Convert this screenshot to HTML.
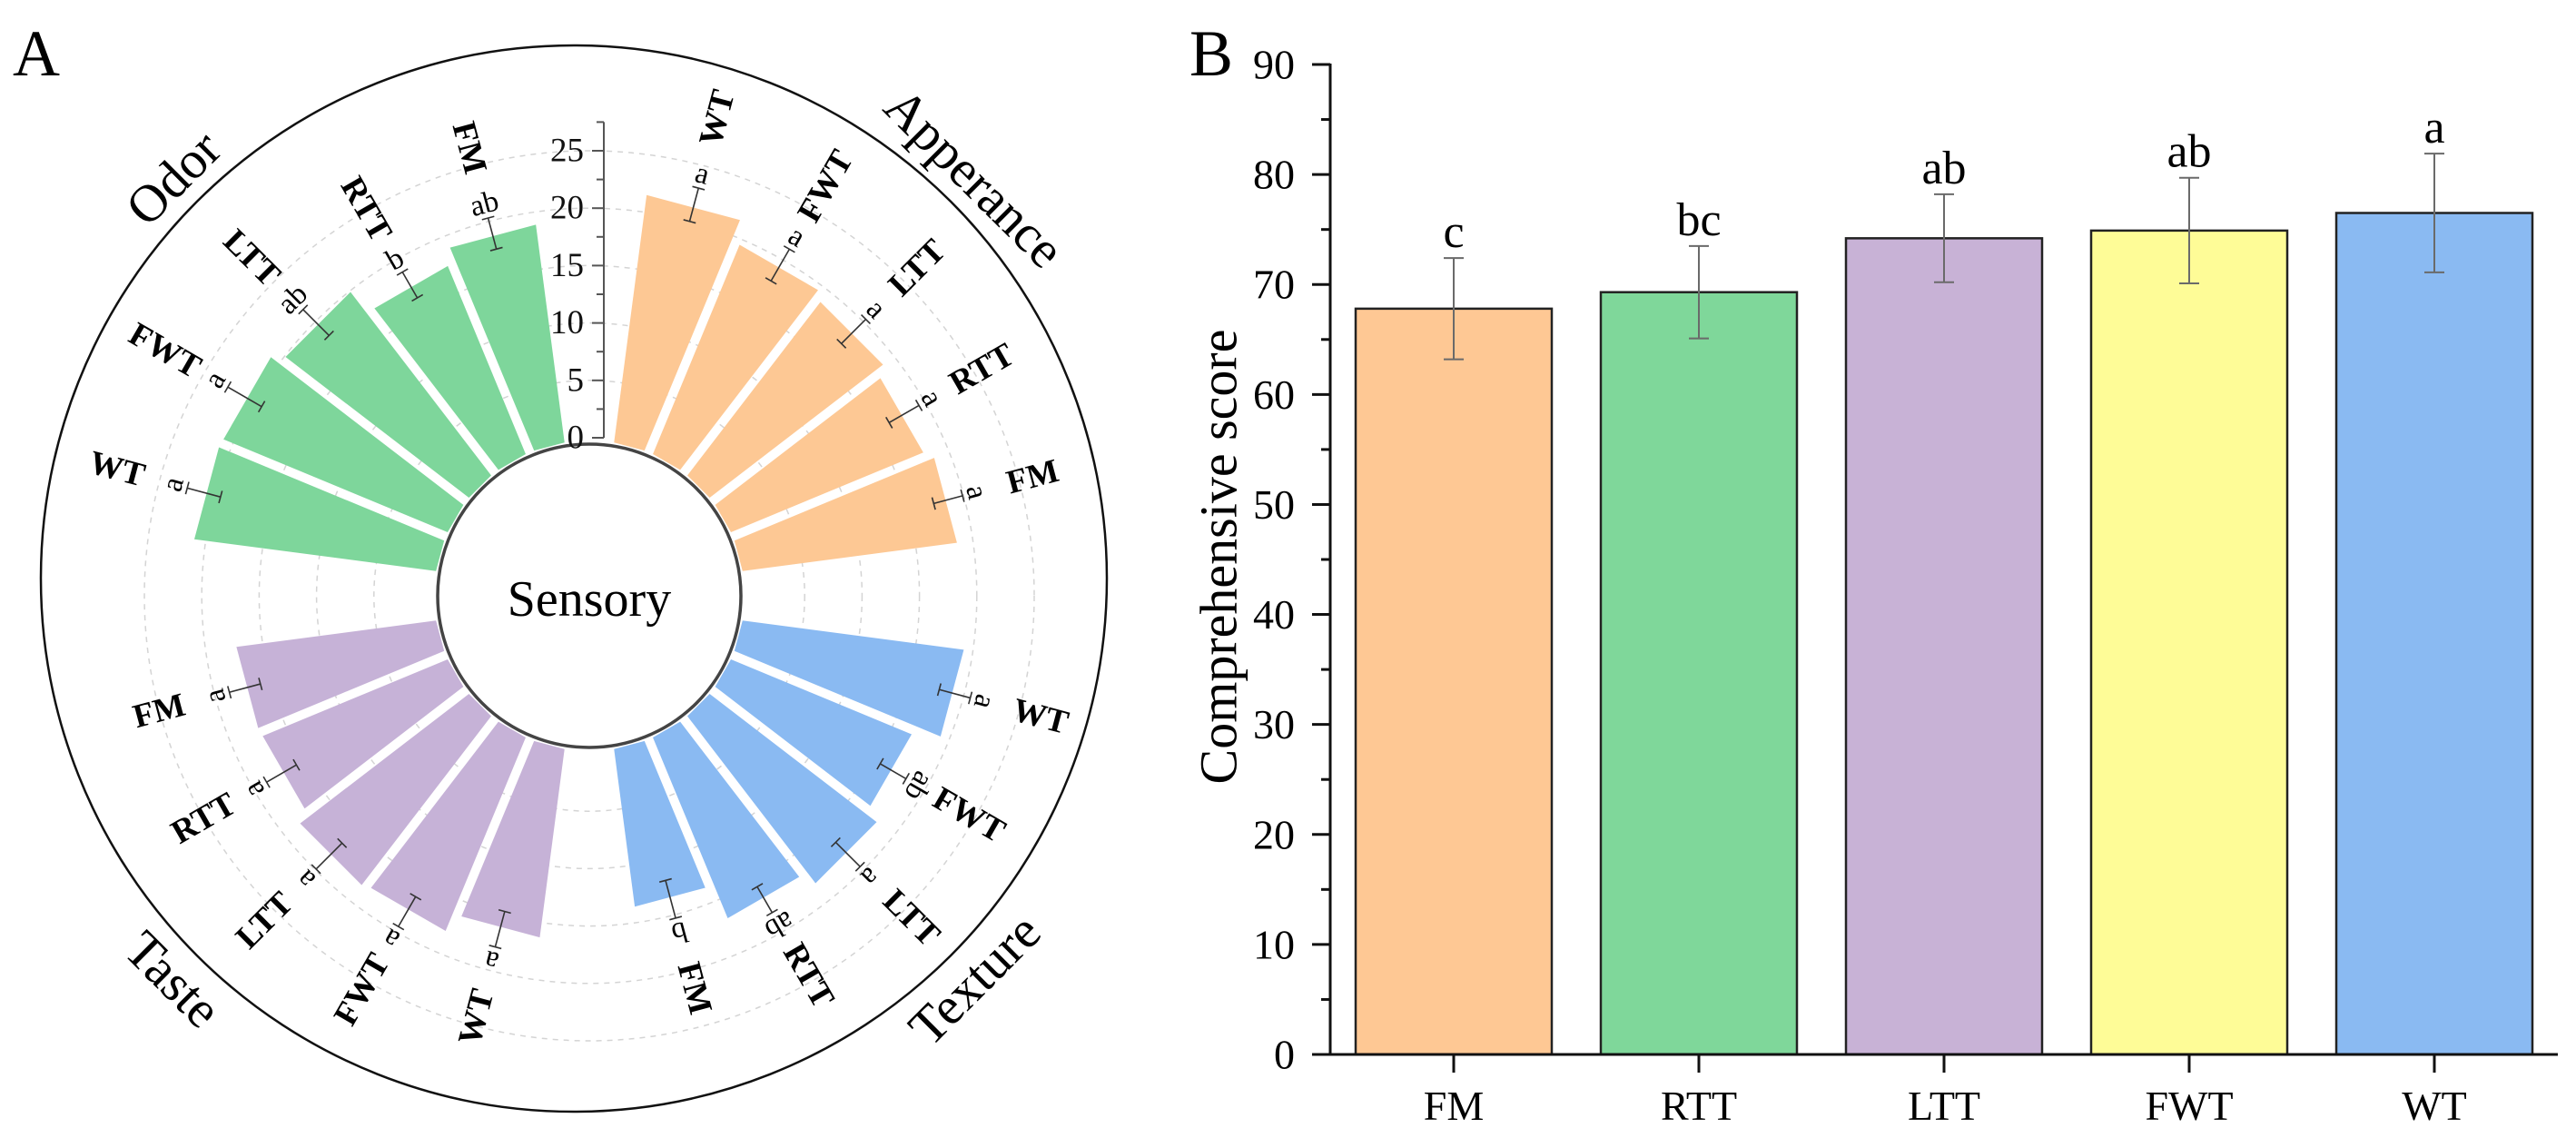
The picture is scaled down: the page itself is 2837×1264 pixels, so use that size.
<!DOCTYPE html>
<html><head><meta charset="utf-8"><style>
html,body{margin:0;padding:0;background:#fff;}
svg{display:block;font-family:"Liberation Serif",serif;}
svg text{font-family:"Liberation Serif",serif;}
</style></head><body>
<svg id="fig" width="2837" height="1264" viewBox="0 0 2837 1264" xmlns="http://www.w3.org/2000/svg" font-family="Liberation Serif, serif">
<text x="14" y="83" font-size="72">A</text>
<text x="1310" y="83" font-size="72">B</text>
<g id="panelA"></g>
<g id="panelB"></g>
</svg>
<script>
// ---------- Panel A data ----------
const groupNames = ["Apperance","Texture","Taste","Odor"];
const groupColors = ["#fdc894","#8abaf2","#c6b2d7","#7ed69b"];
const treatments = ["WT","FWT","LTT","RTT","FM"];
const appearanceVals = [21.5,19.5,18.8,17.9,18.6];
const textureVals = [19.2,16.8,18.1,16.8,13.6];
const tasteVals = [16.3,18.0,18.3,17.2,17.3];
const odorVals = [21.0,20.9,19.9,17.5,18.9];
const appearanceErr = [1.5,1.6,1.5,1.5,1.3];
const textureErr = [1.4,1.3,1.5,1.3,1.7];
const tasteErr = [1.6,1.5,1.6,1.5,1.4];
const odorErr = [1.5,1.7,1.6,1.3,1.4];
const appearanceSig = ["a","a","a","a","a"];
const textureSig = ["a","ab","a","ab","b"];
const tasteSig = ["a","a","a","a","a"];
const odorSig = ["a","a","ab","b","ab"];
const radialTicks = [0,5,10,15,20,25];

// ---------- Panel B data ----------
const bCats = ["FM","RTT","LTT","FWT","WT"];
const bVals = [67.8,69.3,74.2,74.9,76.5];
const bErr = [4.6,4.2,4.0,4.8,5.4];
const bSig = ["c","bc","ab","ab","a"];
const bColors = ["#fec894","#7fd79a","#c8b2d6","#fefc97","#8abaf2"];
const bTicks = [0,10,20,30,40,50,60,70,80,90];

const NS="http://www.w3.org/2000/svg";
function mk(tag, attrs, parent, txt){
  const e=document.createElementNS(NS,tag);
  for(const k in attrs) e.setAttribute(k,attrs[k]);
  if(txt!==undefined) e.textContent=txt;
  parent.appendChild(e); return e;
}
// ---------- Panel A ----------
const A=document.getElementById('panelA');
const cx=649, cy=656, r0=174, unit=12.64;
function rad(v){return r0+unit*v;}
function pt(th,r){const a=th*Math.PI/180;return [cx+r*Math.sin(a), cy-r*Math.cos(a)];}
let oc=mk('circle',{cx:632,cy:637,r:587,fill:'none',stroke:'#111','stroke-width':2.5},A);


radialTicks.forEach(t=>{ if(t===0) return;
  const c=mk('circle',{cx:cx,cy:cy,r:rad(t),fill:'none',stroke:'#d4d4d4','stroke-width':1.5,'stroke-dasharray':'6 6'},A);
  
  
});
const allVals=[appearanceVals,textureVals,tasteVals,odorVals];
const allErr=[appearanceErr,textureErr,tasteErr,odorErr];
const allSig=[appearanceSig,textureSig,tasteSig,odorSig];
const rin=171, gap=5;
for(let g=0;g<4;g++){
  const gg=mk('g',{},A);
  
  
  for(let i=0;i<5;i++){
    const th=g*90+15+i*15;
    const v=allVals[g][i], e=allErr[g][i];
    const ro=rad(v);
    const h1=7.5-Math.asin(gap/rin)*180/Math.PI, h2=7.5-Math.asin(gap/ro)*180/Math.PI;
    const p=[pt(th-h1,rin),pt(th-h2,ro),pt(th+h2,ro),pt(th+h1,rin)];
    const bar=mk('polygon',{points:p.map(q=>q.join(',')).join(' '),fill:groupColors[g]},gg);
    
    
    const lo=pt(th,rad(v-e)), hi=pt(th,rad(v+e));
    const eb=mk('g',{stroke:'#333','stroke-width':1.6},gg);
    
    
    mk('line',{x1:lo[0],y1:lo[1],x2:hi[0],y2:hi[1]},eb);
    [lo,hi].forEach(q=>{const a=th*Math.PI/180, dx=7*Math.cos(a), dy=7*Math.sin(a);
      mk('line',{x1:q[0]-dx,y1:q[1]-dy,x2:q[0]+dx,y2:q[1]+dy},eb);});
    const lp=pt(th,rad(v+e)+16);
    const st=mk('text',{x:lp[0],y:lp[1],'font-size':33,'text-anchor':'middle','dominant-baseline':'central',transform:`rotate(${th} ${lp[0]} ${lp[1]})`},gg,allSig[g][i]);
    
    
    const cp=pt(th,rad(v+e)+80);
    const rot= th<180 ? th-90 : th-270;
    const ct=mk('text',{x:cp[0],y:cp[1],'font-size':37,'font-weight':'bold','text-anchor':'middle','dominant-baseline':'central',transform:`rotate(${rot} ${cp[0]} ${cp[1]})`},gg,treatments[i]);
    
    
  }
  const ga=(45+g*90)*Math.PI/180;
  const gx=632+624*Math.sin(ga), gy=637-624*Math.cos(ga);
  const grot=(g%2===0)?45:-45;
  const gt=mk('text',{x:gx,y:gy,'font-size':58,'text-anchor':'middle','dominant-baseline':'central',transform:`rotate(${grot} ${gx} ${gy})`},A,groupNames[g]);
  
  
}
let ic=mk('circle',{cx:cx,cy:cy,r:167,fill:'#fff',stroke:'#444','stroke-width':3.5},A);


let sc=mk('text',{x:cx,y:cy+4,'font-size':56,'text-anchor':'middle','dominant-baseline':'central'},A,'Sensory');


const ax=mk('g',{stroke:'#555','stroke-width':2},A);


const axX=665;
mk('line',{x1:axX,y1:cy-rad(0),x2:axX,y2:cy-rad(27.5)},ax);
for(let t=0;t<=27.5;t+=2.5){
  const y=cy-rad(t), major=(t%5===0);
  mk('line',{x1:axX-(major?13:8),y1:y,x2:axX,y2:y},ax);
}
radialTicks.forEach(t=>{
  const tl=mk('text',{x:643,y:cy-rad(t),'font-size':37,'text-anchor':'end','dominant-baseline':'central',fill:'#111'},A,String(t));
  
  
});

// ---------- Panel B ----------
const B=document.getElementById('panelB');
const x0=1465, y0=1161, xEnd=2817, perUnit=(1161-71)/90;
const firstC=1601, step=270, bw=216;
function yS(v){return y0-perUnit*v;}
function xS(i){return firstC+i*step;}
bCats.forEach((c,i)=>{
  const r=mk('rect',{x:xS(i)-bw/2,y:yS(bVals[i]),width:bw,height:y0-yS(bVals[i]),fill:bColors[i],stroke:'#222','stroke-width':2.5},B);
  
  
  const eg=mk('g',{stroke:'#6a6a6a','stroke-width':2},B);
  
  
  const yt=yS(bVals[i]+bErr[i]), yb=yS(bVals[i]-bErr[i]);
  mk('line',{x1:xS(i),y1:yt,x2:xS(i),y2:yb},eg);
  mk('line',{x1:xS(i)-11,y1:yt,x2:xS(i)+11,y2:yt},eg);
  mk('line',{x1:xS(i)-11,y1:yb,x2:xS(i)+11,y2:yb},eg);
  const s=mk('text',{x:xS(i),y:yt-12,'font-size':52,'text-anchor':'middle'},B,bSig[i]);
  
  
  const xl=mk('text',{x:xS(i),y:1233,'font-size':46,'text-anchor':'middle'},B,c);
  
  
});
const axes=mk('g',{stroke:'#111','stroke-width':3},B);


mk('line',{x1:x0,y1:yS(90)-1,x2:x0,y2:y0+1.5},axes);
mk('line',{x1:x0-20,y1:y0,x2:xEnd,y2:y0},axes);
bCats.forEach((c,i)=>mk('line',{x1:xS(i),y1:y0,x2:xS(i),y2:y0+20},axes));
for(let t=0;t<=90;t+=5){
  mk('line',{x1:x0-(t%10===0?20:10),y1:yS(t),x2:x0,y2:yS(t)},axes);
}
bTicks.forEach(t=>{
  const tl=mk('text',{x:1426,y:yS(t),'font-size':46,'text-anchor':'end','dominant-baseline':'central'},B,String(t));
  
  
});
const yt=mk('text',{x:1342,y:613,'font-size':58,'text-anchor':'middle','dominant-baseline':'central',transform:'rotate(-90 1342 613)'},B,'Comprehensive score');


</script>
</body></html>
